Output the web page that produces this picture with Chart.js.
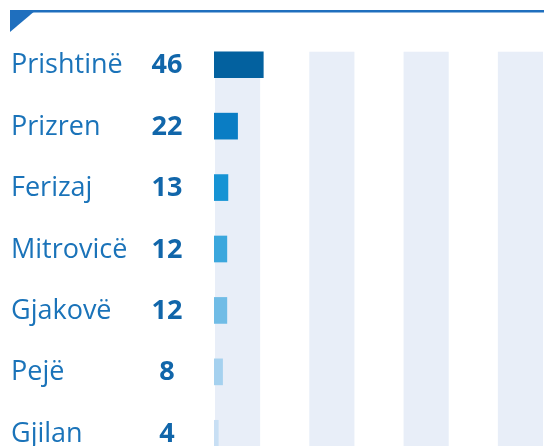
<!DOCTYPE html>
<html>
<head>
<meta charset="utf-8">
<script src="https://cdn.jsdelivr.net/npm/chart.js@4/dist/chart.umd.min.js"></script>
<style>
html,body{margin:0;padding:0;background:#fff;overflow:hidden;width:544px;height:446px;}
#wrap{position:relative;width:544px;height:466px;}
</style>
</head>
<body>
<div id="wrap"><canvas id="c"></canvas></div>
<script>
const cities = ["Prishtinë", "Prizren", "Ferizaj", "Mitrovicë", "Gjakovë", "Pejë", "Gjilan"];
const counts = [46, 22, 13, 12, 12, 8, 4];
const barColors = ["#03619f", "#0a7dc4", "#1693d4", "#3ba7dd", "#70bce6", "#a5d1ef", "#c8dff4"];
const xMax = 308;
const xStep = 44;

const fontFam = "'Open Sans', 'Noto Sans', sans-serif";

const decor = {
  id: 'decor',
  beforeDatasetsDraw(chart) {
    const {ctx, chartArea, scales} = chart;
    const x = scales.x;
    const meta = chart.getDatasetMeta(0);
    const first = meta.data[0];
    const top = first.y - first.height / 2;
    ctx.save();
    ctx.fillStyle = '#e8eef8';
    for (let i = 0; i * xStep < xMax; i += 2) {
      const x0 = x.getPixelForValue(i * xStep) + 1;
      const x1 = x.getPixelForValue(Math.min((i + 1) * xStep, xMax)) - 1;
      ctx.fillRect(x0, top, x1 - x0, chartArea.bottom - top);
    }
    ctx.restore();
  },
  afterDraw(chart) {
    const {ctx, width} = chart;
    const meta = chart.getDatasetMeta(0);
    ctx.save();
    // top rule and corner triangle
    ctx.fillStyle = '#1f6fbe';
    ctx.fillRect(10, 10, width - 10, 2.5);
    ctx.beginPath();
    ctx.moveTo(10, 10);
    ctx.lineTo(36, 10);
    ctx.lineTo(10, 32);
    ctx.closePath();
    ctx.fill();
    // labels
    meta.data.forEach((bar, i) => {
      const yb = bar.y + 8.5;
      ctx.textBaseline = 'alphabetic';
      ctx.fillStyle = '#1a73b9';
      ctx.font = '400 27px ' + fontFam;
      ctx.textAlign = 'left';
      ctx.fillText(cities[i], 11, yb);
      ctx.fillStyle = '#1166aa';
      ctx.font = '700 27px ' + fontFam;
      ctx.textAlign = 'center';
      ctx.fillText(String(counts[i]), 167, yb);
    });
    ctx.restore();
  }
};

new Chart(document.getElementById('c'), {
  type: 'bar',
  data: {
    labels: cities,
    datasets: [{
      data: counts,
      backgroundColor: barColors,
      borderWidth: 0,
      barThickness: 26
    }]
  },
  options: {
    indexAxis: 'y',
    responsive: true,
    maintainAspectRatio: false,
    animation: false,
    layout: { padding: { left: 214, top: 34, right: 0, bottom: 2 } },
    plugins: { legend: { display: false }, tooltip: { enabled: false } },
    scales: {
      x: { display: false, min: 0, max: xMax, ticks: { stepSize: xStep } },
      y: { display: false }
    }
  },
  plugins: [decor]
});
</script>
</body>
</html>
